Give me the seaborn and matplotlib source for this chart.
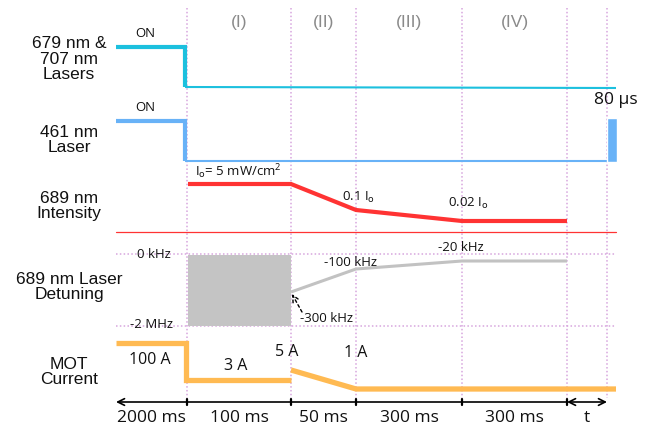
import matplotlib
matplotlib.use("Agg")
import matplotlib.pyplot as plt
import seaborn as sns
import pandas as pd

sns.set_theme(style="white")
plt.rcParams['font.family'] = ['Liberation Sans', 'DejaVu Sans']
plt.rcParams['mathtext.default'] = 'regular'

# ---- schematic data (diagram units: x = timeline position, y = row level) ----
phase_edges = [187, 291, 356, 462, 567, 607]
timeline_start = 116
timeline_end = 616
phase_labels = ["(I)", "(II)", "(III)", "(IV)"]
dur_labels = ["2000 ms", "100 ms", "50 ms", "300 ms", "300 ms", "t"]
row_labels = ["679 nm &\n707 nm\nLasers", "461 nm\nLaser", "689 nm\nIntensity",
              "689 nm Laser\nDetuning", "MOT\nCurrent"]
row_label_y = [59, 140, 206, 287, 372]

# 679/707 lasers
l679_on_x = [116, 185, 185]
l679_on_y = [47, 47, 87]
l679_off_x = [185, 616]
l679_off_y = [87, 88]
# 461 laser
l461_on_x = [116, 185, 185]
l461_on_y = [121, 121, 161]
l461_off_x = [185, 607]
l461_off_y = [161, 161]
pulse_x, pulse_w, pulse_top, pulse_bot = 607, 10, 118, 162
# 689 intensity
int_x = [188, 291, 356, 462, 567]
int_y = [184, 184, 210, 221, 221]
# detuning
det_levels = [254, 326]
det_box = (188, 291)
det_x = [291, 356, 462, 567]
det_y = [292, 269, 261, 261]
# MOT current
mot1_x = [116, 186, 186, 291]
mot1_y = [343, 343, 380, 380]
mot2_x = [291, 356, 616]
mot2_y = [370, 389, 389]
axis_y = 402

fig = plt.figure(figsize=(6.47, 4.28), dpi=100)
ax = fig.add_axes([0, 0, 1, 1])
ax.set_xlim(0, 647)
ax.set_ylim(428, 0)
ax.axis('off')

vcol = '#D7A6DE'
for x in phase_edges:
    ax.plot([x, x], [8, 398], color=vcol, lw=1.1, ls=(0, (1, 1.5)), zorder=1)

def line(xs, ys, color, lw, z=3):
    df = pd.DataFrame({'x': xs, 'y': ys})
    sns.lineplot(data=df, x='x', y='y', sort=False, estimator=None, color=color,
                 lw=lw, ax=ax, zorder=z, solid_joinstyle='miter', solid_capstyle='butt')

cyan = '#1CC0DE'
blue = '#68B2F7'
red = '#FF3333'
grey = '#C2C2C2'
orange = '#FFBA52'

line(l679_on_x, l679_on_y, cyan, 3.0)
line(l679_off_x, l679_off_y, cyan, 1.5)
line(l461_on_x, l461_on_y, blue, 3.0)
line(l461_off_x, l461_off_y, blue, 1.5)
ax.bar(pulse_x, pulse_bot - pulse_top, width=pulse_w, bottom=pulse_top,
       align='edge', color=blue, zorder=3)
line(int_x, int_y, red, 3.0)
ax.plot([timeline_start, timeline_end], [232, 232], color=red, lw=0.9, zorder=2)

for yl in det_levels:
    ax.plot([timeline_start, timeline_end], [yl, yl], color=vcol, lw=1.1,
            ls=(0, (1, 1.5)), zorder=1)
ax.fill_between(list(det_box), det_levels[0] + 1, det_levels[1], color='#C4C4C4', zorder=2, lw=0)
line(det_x, det_y, grey, 2.2)

line(mot1_x, mot1_y, orange, 3.8)
line(mot2_x, mot2_y, orange, 3.8)

# time axis
ax.annotate('', xy=(timeline_start, axis_y), xytext=(phase_edges[4], axis_y),
            arrowprops=dict(arrowstyle='->', color='black', lw=1.2, shrinkA=0, shrinkB=0))
ax.annotate('', xy=(phase_edges[4], axis_y), xytext=(phase_edges[5], axis_y),
            arrowprops=dict(arrowstyle='<->', color='black', lw=1.2, shrinkA=0, shrinkB=0))
for x in phase_edges[:5]:
    ax.plot([x, x], [axis_y - 3, axis_y + 3], color='black', lw=1.6)

bounds = [timeline_start] + phase_edges
for i, lab in enumerate(dur_labels):
    ax.text((bounds[i] + bounds[i + 1]) / 2, 418, lab, ha='center', va='center',
            fontsize=12.5, family=['Open Sans', 'DejaVu Sans'], color='#111111')

for i, lab in enumerate(phase_labels):
    ax.text((phase_edges[i] + phase_edges[i + 1]) / 2, 22, lab, ha='center', va='center',
            fontsize=12.5, color='#8A8A8A')

for lab, y in zip(row_labels, row_label_y):
    ax.text(69, y, lab, ha='center', va='center', fontsize=12.5, linespacing=1.08,
            color='#111111')

small = dict(fontsize=9.5, color='#111111', va='center', family=['Open Sans', 'DejaVu Sans'])
ax.text(145, 33, 'ON', ha='center', **small)
ax.text(145, 107, 'ON', ha='center', **small)
ax.text(195, 172, r'I$_{\mathrm{o}}$= 5 mW/cm$^{2}$', ha='left', **small)
ax.text(342, 197, r'0.1 I$_{\mathrm{o}}$', ha='left', **small)
ax.text(448, 203, r'0.02 I$_{\mathrm{o}}$', ha='left', **small)
ax.text(171, 254, '0 kHz', ha='right', **small)
ax.text(173, 325, '-2 MHz', ha='right', **small)
ax.text(324, 262, '-100 kHz', ha='left', **small)
ax.text(438, 247, '-20 kHz', ha='left', **small)
ax.text(300, 318, '-300 kHz', ha='left', **small)
ax.annotate('', xy=(292, 294), xytext=(302, 312),
            arrowprops=dict(arrowstyle='->', color='black', lw=1.0, ls=(0, (2, 2)),
                            shrinkA=0, shrinkB=0))

mid = dict(fontsize=11.5, color='#111111', va='center', ha='center',
           family=['Open Sans', 'DejaVu Sans'])
ax.text(150, 360, '100 A', **mid)
ax.text(236, 366, '3 A', **mid)
ax.text(287, 352, '5 A', **mid)
ax.text(356, 353, '1 A', **mid)
ax.text(616, 100, '80 μs', fontsize=12.5, ha='center', va='center', color='#111111',
        family=['Open Sans', 'DejaVu Sans'])

fig.savefig('out.png', dpi=100)
